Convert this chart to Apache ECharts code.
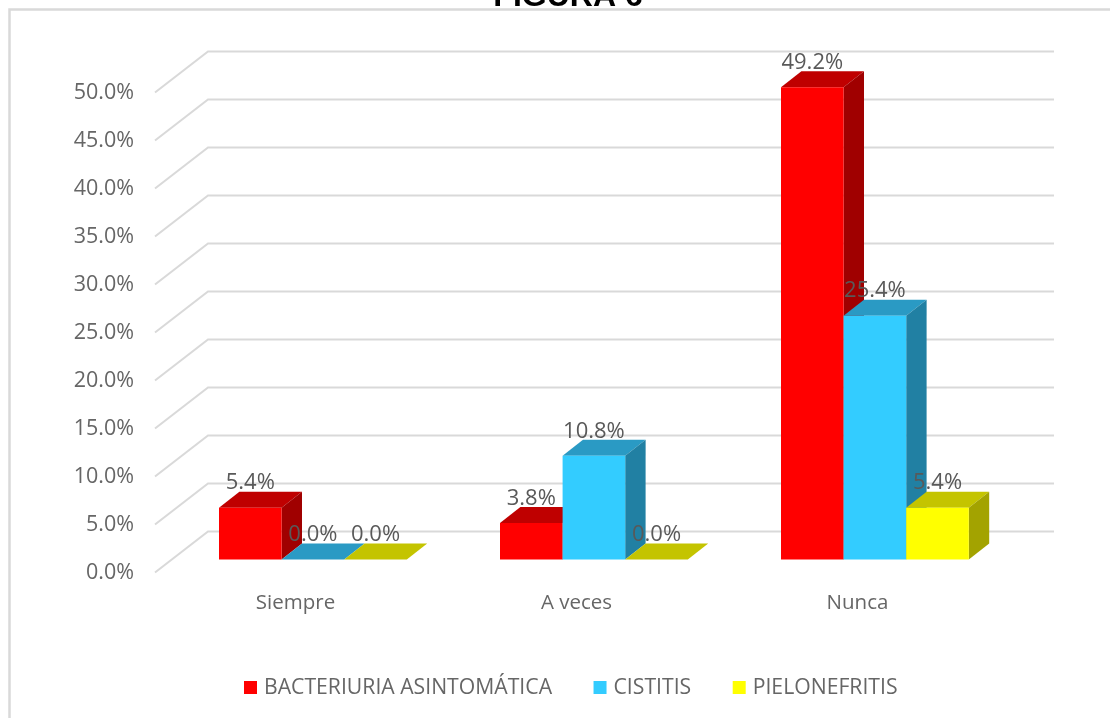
<!DOCTYPE html>
<html>
<head>
<meta charset="utf-8">
<style>
html, body { margin: 0; height: 100%; background: #fff; }
#main { width: 1110px; height: 718px; }
</style>
<script src="https://cdn.jsdelivr.net/npm/echarts@6/dist/echarts.min.js"></script>
</head>
<body>
<div id="main"></div>
<script>
const categories = ['Siempre', 'A veces', 'Nunca']
const seriesNames = ['BACTERIURIA ASINTOMÁTICA', 'CISTITIS', 'PIELONEFRITIS']
const bacteriuria = [5.4, 3.8, 49.2]
const cistitis = [0.0, 10.8, 25.4]
const pielonefritis = [0.0, 0.0, 5.4]
const gridTicks = [0, 5, 10, 15, 20, 25, 30, 35, 40, 45, 50]

const font = '"Open Sans"'
const textColor = '#666666'
// depth of the fake 3d box, front plane of the axis to the back wall
const wallDx = 53
const wallDy = -41
const wallRightExtra = 3
// the bars stand a bit inside the floor
const barInDx = 17.4
const barInDy = -13
const barDx = 20.4
const barDy = -16
const barWidth = 62.6

function wallItem(params, api) {
  const y = api.coord([0, api.value(0)])[1]
  const left = params.coordSys.x
  const right = left + params.coordSys.width + wallRightExtra
  return {
    type: 'polyline',
    silent: true,
    shape: { points: [[left, y], [left + wallDx, y + wallDy], [right + wallDx, y + wallDy]] },
    style: { stroke: '#d9d9d9', lineWidth: 2, fill: null }
  }
}

function barItem(seriesIndex, colors) {
  return function (params, api) {
    const top = api.coord([api.value(0), api.value(1)])
    const base = api.coord([api.value(0), 0])
    const x0 = top[0] + barInDx + (seriesIndex - 1.5) * barWidth
    const x1 = x0 + barWidth
    const yTop = top[1] + barInDy
    const yBase = base[1] + barInDy
    const children = [
      {
        type: 'polygon',
        shape: { points: [[x0, yTop], [x0 + barDx, yTop + barDy], [x1 + barDx, yTop + barDy], [x1, yTop]] },
        style: { fill: colors[1] }
      }
    ]
    if (yBase - yTop > 0.5) {
      children.push({
        type: 'polygon',
        shape: { points: [[x1, yTop], [x1 + barDx, yTop + barDy], [x1 + barDx, yBase + barDy], [x1, yBase]] },
        style: { fill: colors[2] }
      })
      children.push({
        type: 'rect',
        shape: { x: x0, y: yTop, width: barWidth, height: yBase - yTop },
        style: { fill: colors[0] }
      })
    }
    return { type: 'group', children: children }
  }
}

function labelItem(seriesIndex) {
  return function (params, api) {
    const top = api.coord([api.value(0), api.value(1)])
    return {
      type: 'text',
      z2: 100,
      style: {
        x: top[0] + barInDx + (seriesIndex - 1) * barWidth,
        y: top[1] + barInDy - 24.5,
        text: api.value(1).toFixed(1) + '%',
        align: 'center',
        verticalAlign: 'middle',
        fontFamily: font,
        fontSize: 22,
        fill: '#595959'
      }
    }
  }
}

function barSeries(name, values, seriesIndex, colors) {
  return {
    name: name,
    type: 'custom',
    renderItem: barItem(seriesIndex, colors),
    itemStyle: { color: colors[0] },
    encode: { x: 0, y: 1 },
    data: values.map((v, i) => [i, v]),
    z: 3 + seriesIndex
  }
}

function labelSeries(values, seriesIndex) {
  return {
    type: 'custom',
    renderItem: labelItem(seriesIndex),
    encode: { x: 0, y: 1 },
    data: values.map((v, i) => [i, v]),
    z: 10,
    silent: true
  }
}

const chart = echarts.init(document.getElementById('main'))
chart.setOption({
  animation: false,
  backgroundColor: '#ffffff',
  title: {
    text: 'FIGURA 6',
    left: 563,
    textAlign: 'center',
    top: -24,
    textStyle: { color: '#000000', fontFamily: '"Liberation Sans"', fontWeight: 'bold', fontSize: 32 }
  },
  graphic: [
    {
      type: 'polyline',
      z: 0,
      silent: true,
      shape: { points: [[9.5, 718], [9.5, 9.5], [1110, 9.5]] },
      style: { fill: null, stroke: '#d9d9d9', lineWidth: 2.5 }
    }
  ],
  legend: {
    data: seriesNames,
    left: 244,
    top: 677,
    padding: 0,
    icon: 'rect',
    itemWidth: 13,
    itemHeight: 13,
    itemGap: 41.5,
    textStyle: { color: textColor, fontFamily: font, fontSize: 21.2, padding: [0, 0, 0, 2] }
  },
  grid: { left: 155, top: 92.5, width: 843, height: 480 },
  xAxis: {
    type: 'category',
    data: categories,
    axisLine: { show: false },
    axisTick: { show: false },
    axisLabel: { color: textColor, fontFamily: font, fontSize: 20.5, margin: 20 }
  },
  yAxis: {
    type: 'value',
    min: 0,
    max: 50,
    interval: 5,
    axisLine: { show: false },
    axisTick: { show: false },
    splitLine: { show: false },
    axisLabel: {
      color: textColor,
      fontFamily: font,
      fontSize: 21.5,
      margin: 21,
      padding: [3, 0, 0, 0],
      formatter: v => v.toFixed(1) + '%'
    }
  },
  series: [
    {
      type: 'custom',
      renderItem: wallItem,
      encode: { y: 0 },
      data: gridTicks.map(v => [v]),
      z: 1,
      silent: true
    },
    barSeries(seriesNames[0], bacteriuria, 0, ['#ff0000', '#bf0000', '#a00000']),
    barSeries(seriesNames[1], cistitis, 1, ['#33ccff', '#2a9ac4', '#2180a3']),
    barSeries(seriesNames[2], pielonefritis, 2, ['#ffff00', '#c4c400', '#a3a300']),
    labelSeries(bacteriuria, 0),
    labelSeries(cistitis, 1),
    labelSeries(pielonefritis, 2)
  ]
})
</script>
</body>
</html>
